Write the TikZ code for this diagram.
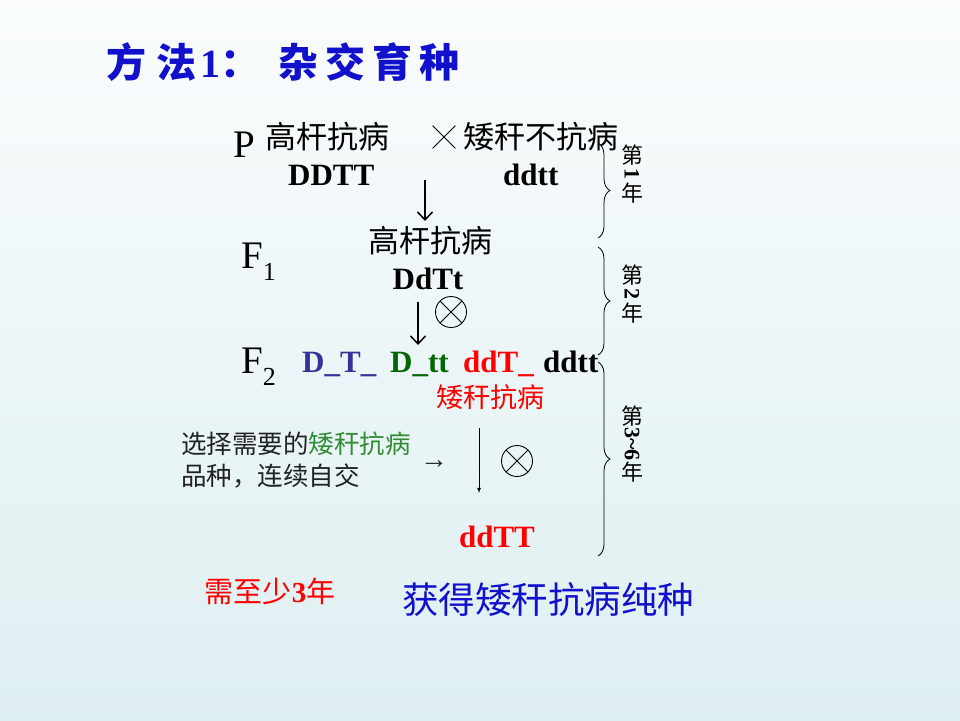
\documentclass[tikz,border=0pt]{standalone}
\usepackage{fontspec}
\setmainfont{Liberation Serif}
\newfontfamily\cjk{Noto Sans CJK SC}
\usetikzlibrary{arrows.meta,shapes.misc,decorations.pathreplacing}
\definecolor{bgtop}{RGB}{250,252,253}
\definecolor{bgmid}{RGB}{233,244,246}
\definecolor{bgbot}{RGB}{222,239,241}
\definecolor{titleblue}{RGB}{17,17,204}
\definecolor{dtblue}{RGB}{51,51,153}
\definecolor{dtgreen}{RGB}{0,102,0}
\definecolor{pickgreen}{RGB}{51,140,51}
\definecolor{note}{RGB}{34,34,34}

\begin{document}
\begin{tikzpicture}[x=1pt,y=-1pt,>=latex,
  zh/.style={font=\cjk\fontsize{#1}{#1}\selectfont,inner sep=0pt},
  zh/.default=31,
  gen/.style={font=\bfseries\fontsize{31}{31}\selectfont,inner sep=0pt,anchor=base west},
  big/.style={font=\fontsize{39}{39}\selectfont,inner sep=0pt,anchor=base west},
  down/.style={-{Straight Barb[length=8pt,width=15pt,line width=1.5pt]},line width=1.6pt},
  selfing/.style={circle,draw,line width=0.9pt,minimum size=31pt,inner sep=0pt,
    path picture={\draw[line width=0.9pt] (path picture bounding box.north west) -- (path picture bounding box.south east)
      (path picture bounding box.north east) -- (path picture bounding box.south west);}},
  year/.style={font=\cjk\fontsize{22}{18}\selectfont,inner sep=0pt,align=center},
  yearbrace/.style={decorate,decoration={brace,amplitude=12pt},line width=0.8pt}]
\shade[top color=bgtop,middle color=bgmid,bottom color=bgbot] (0,0) rectangle (960,720);
% title
\node[anchor=west,inner sep=0pt,text=titleblue,font=\cjk\bfseries\fontsize{40}{40}\selectfont] (title) at (106,62)
  {方\hspace{10pt}法\hspace{4pt}{\rmfamily 1}：\hspace{18pt}杂\hspace{7pt}交\hspace{7pt}育\hspace{7pt}种};
% parents
\node[big] (P) at (233,157) {P};
\node[zh] (pTall) at (327,137) {高杆抗病};
\node[cross out,draw,line width=0.8pt,minimum size=22pt,inner sep=0pt] (cross) at (444,137) {};
\node[zh] (pShort) at (541,137) {矮秆不抗病};
\node[gen] (DDTT) at (288,185) {DDTT};
\node[gen] (ddtt) at (503,185) {ddtt};
\coordinate (a1s) at (425,180);
\coordinate (a1e) at (425,221);
\draw[down] (a1s) -- (a1e);
% F1
\node[big] (F1) at (241,268) {F\raisebox{-12pt}{\fontsize{26}{26}\selectfont 1}};
\node[zh] (fTall) at (430,241) {高杆抗病};
\node[gen,anchor=base] (DdTt) at (428,289) {DdTt};
\coordinate (a2s) at (418,302);
\coordinate (a2e) at (418,345);
\draw[down] (a2s) -- (a2e);
\node[selfing] (self1) at (451,312) {};
% F2
\node[big] (F2) at (241,373) {F\raisebox{-12pt}{\fontsize{26}{26}\selectfont 2}};
\node[gen,text=dtblue] (gDT) at (302,372) {D\_T\_};
\node[gen,text=dtgreen] (gDt) at (390,372) {D\_tt};
\node[gen,text=red] (gdT) at (463,372) {ddT\_};
\node[gen] (gdt) at (543,372) {ddtt};
\node[zh=27,text=red] (fShort) at (490,397) {矮秆抗病};
% selection
\node[zh=25.5,anchor=west,text=note] (pick) at (181,444) {选择需要的\textcolor{pickgreen}{矮秆抗病}};
\node[zh=25.5,anchor=west,text=note] (cont) at (181,476) {品种，连续自交};
\node[inner sep=0pt,font=\fontsize{28}{28}\selectfont,text=note] (then) at (434,465) {→};
\coordinate (a3s) at (479,428);
\coordinate (a3e) at (479,493);
\draw[-latex,line width=0.8pt] (a3s) -- (a3e);
\node[selfing] (self2) at (517,461) {};
\node[gen,anchor=base,text=red] (ddTT) at (497,547) {ddTT};
\node[zh=29,text=red] (years) at (270,591) {需至少{\rmfamily\bfseries 3}年};
\node[zh=36.5,text=titleblue] (result) at (548,600) {获得矮秆抗病纯种};
% braces
\coordinate (b1t) at (598,143);
\coordinate (b1b) at (598,238);
\coordinate (b2t) at (598,247);
\coordinate (b2b) at (598,355);
\coordinate (b3t) at (598,362);
\coordinate (b3b) at (598,556);
\draw[yearbrace] (b1t) -- (b1b);
\draw[yearbrace] (b2t) -- (b2b);
\draw[yearbrace] (b3t) -- (b3b);
\node[year] (yr1) at (632,174) {第\\\rotatebox[origin=c]{-90}{\rmfamily\bfseries 1}\\年};
\node[year] (yr2) at (632,294) {第\\\rotatebox[origin=c]{-90}{\rmfamily\bfseries 2}\\年};
\node[year] (yr3) at (632,444) {第\\\rotatebox[origin=c]{-90}{\rmfamily\bfseries 3\textasciitilde 6}\\年};
\end{tikzpicture}
\end{document}
